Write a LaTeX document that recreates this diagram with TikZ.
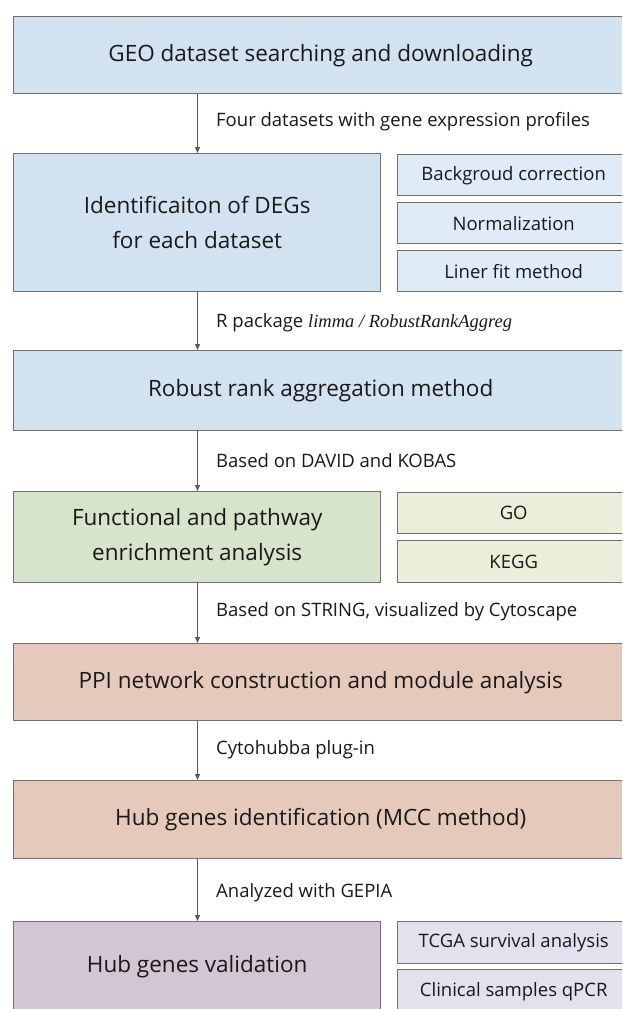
\documentclass[tikz,border=0pt]{standalone}
\usepackage{fontspec}
\setmainfont{Open Sans}
\newfontfamily\serifit{Liberation Serif}
\usetikzlibrary{arrows.meta}

\definecolor{edge}{RGB}{112,112,112}
\definecolor{flow}{RGB}{90,90,90}
\definecolor{ink}{RGB}{25,25,25}
\definecolor{bluemain}{RGB}{211,226,241}
\definecolor{blueside}{RGB}{223,235,246}
\definecolor{greenmain}{RGB}{215,228,204}
\definecolor{greenside}{RGB}{235,239,218}
\definecolor{salmon}{RGB}{229,202,188}
\definecolor{plummain}{RGB}{211,197,211}
\definecolor{plumside}{RGB}{227,225,237}

\tikzset{
  box/.style={draw=edge, line width=1.4pt, rectangle, inner sep=0pt,
    anchor=north west, text=ink, align=center},
  widebox/.style={box, minimum width=614pt, font=\fontsize{22.5}{35}\selectfont},
  narrowbox/.style={box, minimum width=367pt, font=\fontsize{22.5}{35}\selectfont},
  sidebox/.style={box, minimum width=232pt, font=\fontsize{18.5}{22}\selectfont},
  flowarrow/.style={draw=flow, line width=1.2pt,
    -{Triangle[length=6pt,width=5pt]}},
  steplabel/.style={anchor=west, inner sep=0pt, text=ink,
    font=\fontsize{18.5}{22}\selectfont}
}

\begin{document}
\begin{tikzpicture}[x=1pt,y=-1pt]
\useasboundingbox (0,0) rectangle (622,1009);
\clip (0,0) rectangle (622,1009);

% vertical axis of the main flow
\coordinate (axis) at (197.5,0);

% step 1
\node[widebox, fill=bluemain, minimum height=77pt] (geo) at (13,16)
  {GEO dataset searching and downloading};

% step 2 with its three sub-steps
\node[narrowbox, fill=bluemain, minimum height=138pt] (deg) at (13,153)
  {Identificaiton of DEGs\\for each dataset};
\node[sidebox, fill=blueside, minimum height=41pt] (bg) at (397,154)
  {Backgroud correction};
\node[sidebox, fill=blueside, minimum height=41pt] (norm) at (397,202)
  {Normalization};
\node[sidebox, fill=blueside, minimum height=41pt] (fit) at (397,250)
  {Liner fit method};

% step 3
\node[widebox, fill=bluemain, minimum height=80pt] (rra) at (13,350)
  {Robust rank aggregation method};

% step 4 with its sub-steps
\node[narrowbox, fill=greenmain, minimum height=91pt] (enr) at (13,491)
  {Functional and pathway\\enrichment analysis};
\node[sidebox, fill=greenside, minimum height=41pt] (go) at (397,492)
  {GO};
\node[sidebox, fill=greenside, minimum height=42pt] (kegg) at (397,540)
  {KEGG};

% step 5
\node[widebox, fill=salmon, minimum height=77pt] (ppi) at (13,643)
  {PPI network construction and module analysis};

% step 6
\node[widebox, fill=salmon, minimum height=78pt] (hub) at (13,780)
  {Hub genes identification (MCC method)};

% step 7 with its sub-steps (running past the lower edge)
\node[narrowbox, fill=plummain, minimum height=90pt] (val) at (13,921)
  {Hub genes validation};
\node[sidebox, fill=plumside, minimum height=42pt] (tcga) at (397,921)
  {TCGA survival analysis};
\node[sidebox, fill=plumside, minimum height=43pt] (qpcr) at (397,969)
  {Clinical samples qPCR};

% connectors
\draw[flowarrow] (geo.south -| axis) -- (deg.north -| axis);
\draw[flowarrow] (deg.south -| axis) -- (rra.north -| axis);
\draw[flowarrow] (rra.south -| axis) -- (enr.north -| axis);
\draw[flowarrow] (enr.south -| axis) -- (ppi.north -| axis);
\draw[flowarrow] (ppi.south -| axis) -- (hub.north -| axis);
\draw[flowarrow] (hub.south -| axis) -- (val.north -| axis);

% connector labels
\node[steplabel] (l1) at (216,122) {Four datasets with gene expression profiles};
\node[steplabel] (l2) at (216,323) {R package {\serifit\itshape\fontsize{18.5}{22}\selectfont limma / RobustRankAggreg}};
\node[steplabel] (l3) at (216,461) {Based on DAVID and KOBAS};
\node[steplabel] (l4) at (216,612) {Based on STRING, visualized by Cytoscape};
\node[steplabel] (l5) at (216,750) {Cytohubba plug-in};
\node[steplabel] (l6) at (216,893) {Analyzed with GEPIA};
\end{tikzpicture}
\end{document}
